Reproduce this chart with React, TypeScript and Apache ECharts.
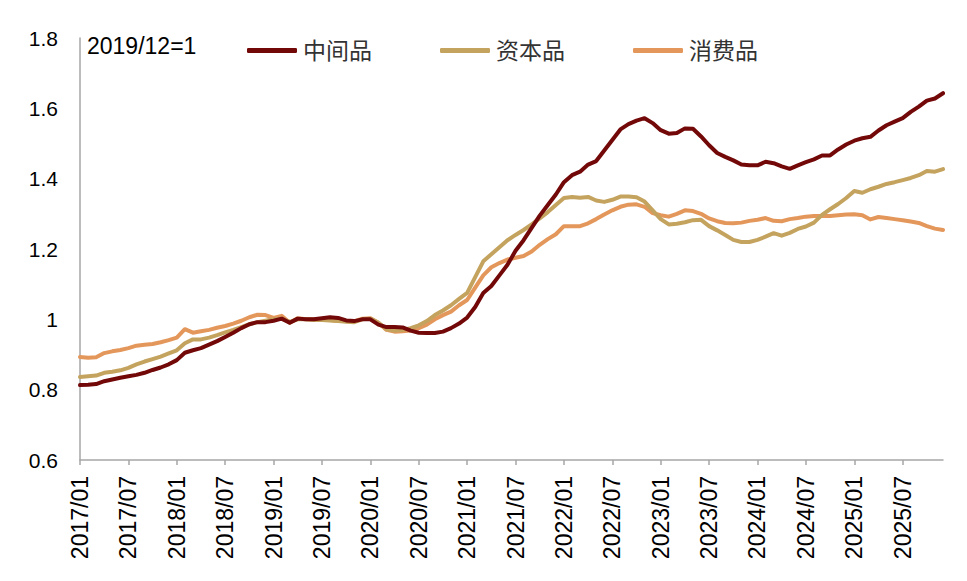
import React, { useEffect, useRef } from "react";
import * as echarts from "echarts";

const years = [2017, 2018, 2019, 2020, 2021, 2022, 2023, 2024, 2025];
const months = ["01", "02", "03", "04", "05", "06", "07", "08", "09", "10", "11", "12"];
const categories: string[] = [];
years.forEach((y) => months.forEach((m) => categories.push(`${y}/${m}`)));

const seriesNames = ["中间品", "资本品", "消费品"];
const yTicks = [0.6, 0.8, 1.0, 1.2, 1.4, 1.6, 1.8];
const note = "2019/12=1";

const intermediate = [
  0.813, 0.814, 0.816, 0.824, 0.829, 0.834, 0.838, 0.842, 0.848, 0.856, 0.863, 0.872,
  0.884, 0.905, 0.912, 0.918, 0.928, 0.938, 0.95, 0.962, 0.975, 0.986, 0.992, 0.992,
  0.996, 1.002, 0.99, 1.002, 1.0, 1.0, 1.003, 1.006, 1.004, 0.997, 0.995, 1.0,
  1.0, 0.985, 0.978, 0.978, 0.977, 0.968, 0.962, 0.961, 0.961, 0.965, 0.975, 0.988,
  1.005, 1.035, 1.075, 1.095, 1.125, 1.155, 1.195, 1.225, 1.26, 1.295, 1.325, 1.355,
  1.39, 1.41, 1.42, 1.44, 1.45, 1.48, 1.51, 1.54, 1.555, 1.565, 1.572, 1.558,
  1.538, 1.528, 1.53, 1.543, 1.542, 1.52, 1.495, 1.473, 1.462, 1.452, 1.44, 1.438,
  1.438, 1.448, 1.444, 1.435, 1.428, 1.438, 1.447, 1.455, 1.466, 1.466, 1.483, 1.497,
  1.508, 1.515, 1.519, 1.537, 1.552, 1.562, 1.572, 1.59, 1.605, 1.622, 1.628, 1.643,
];

const capital = [
  0.836, 0.838, 0.84, 0.848, 0.851, 0.855, 0.862, 0.872, 0.88, 0.887, 0.894, 0.903,
  0.912, 0.932, 0.943, 0.943, 0.948, 0.955, 0.963, 0.97, 0.978, 0.986, 0.992, 0.996,
  1.0, 1.002, 0.993, 1.0, 1.0, 0.998, 0.998, 0.997, 0.995, 0.993, 0.992, 1.0,
  1.002, 0.99, 0.972, 0.968, 0.97, 0.975, 0.983, 0.995, 1.012, 1.025, 1.04, 1.058,
  1.075, 1.12, 1.165, 1.185, 1.205, 1.225, 1.24, 1.254, 1.27, 1.287, 1.305, 1.325,
  1.345, 1.348, 1.346, 1.348, 1.338, 1.334, 1.34, 1.349, 1.349, 1.347, 1.335, 1.31,
  1.285, 1.27, 1.272, 1.276, 1.282, 1.283, 1.265, 1.253, 1.24, 1.226, 1.22, 1.22,
  1.226, 1.235, 1.245, 1.238, 1.246, 1.257, 1.264, 1.275, 1.297, 1.313, 1.328, 1.345,
  1.365, 1.36, 1.37, 1.377, 1.385, 1.39, 1.396, 1.402, 1.41, 1.422, 1.42, 1.427,
];

const consumer = [
  0.893, 0.891, 0.892, 0.904, 0.909, 0.913, 0.918, 0.925, 0.928, 0.93, 0.935, 0.941,
  0.948, 0.972, 0.962, 0.966, 0.97, 0.976, 0.981, 0.988, 0.996, 1.006, 1.013, 1.012,
  1.004, 1.01, 0.99, 1.003, 1.0, 1.0, 1.0, 0.998, 0.995, 0.995, 0.994, 1.002,
  1.003, 0.99, 0.97, 0.965, 0.966, 0.968, 0.975, 0.985, 1.0, 1.012, 1.022, 1.04,
  1.055, 1.09, 1.125, 1.148, 1.16, 1.17, 1.175, 1.18, 1.193, 1.212, 1.228, 1.242,
  1.265, 1.265, 1.265, 1.273, 1.285, 1.298, 1.31, 1.32, 1.326, 1.327, 1.32, 1.302,
  1.296, 1.292, 1.3, 1.31, 1.308, 1.3, 1.287, 1.279, 1.274, 1.273, 1.275, 1.28,
  1.283, 1.288, 1.28, 1.279, 1.285, 1.288, 1.292, 1.294, 1.294, 1.294, 1.296, 1.298,
  1.299, 1.296, 1.284, 1.291, 1.288, 1.285, 1.282, 1.278, 1.274, 1.265, 1.258, 1.254,
];

const colors = ["#730808", "#C4A35F", "#E4975B"];
const FONT = "'Liberation Sans', Arial, 'Noto Sans CJK SC', sans-serif";

export default function App() {
  const ref = useRef<HTMLDivElement>(null);
  useEffect(() => {
    if (!ref.current) return;
    const chart = echarts.init(ref.current, undefined, { renderer: "svg" });
    const data = [intermediate, capital, consumer];
    chart.setOption({
      animation: false,
      color: colors,
      textStyle: { fontFamily: FONT },
      grid: { left: 80, right: 24, top: 38, bottom: 121 },
      graphic: [
        {
          type: "text",
          left: 87,
          top: 34,
          style: { text: note, fontSize: 23, fill: "#000", fontFamily: FONT },
        },
      ],
      legend: {
        data: seriesNames,
        left: 247,
        top: 39,
        padding: 0,
        icon: "roundRect",
        itemWidth: 50,
        itemHeight: 5,
        itemGap: 68,
        textStyle: { fontSize: 23, color: "#333", fontFamily: FONT, padding: [0, 0, 0, 1] },
      },
      xAxis: {
        type: "category",
        data: categories,
        boundaryGap: false,
        axisLine: { lineStyle: { color: "#A6A6A6", width: 1.5 } },
        axisTick: { show: true, interval: 5, length: 5, lineStyle: { color: "#A6A6A6", width: 1.5 } },
        axisLabel: {
          interval: 5,
          rotate: 90,
          margin: 16,
          fontSize: 23,
          color: "#000",
          fontFamily: FONT,
        },
        splitLine: { show: false },
      },
      yAxis: {
        type: "value",
        min: yTicks[0],
        max: yTicks[yTicks.length - 1],
        interval: 0.2,
        axisLine: { show: true, lineStyle: { color: "#A6A6A6", width: 1.5 } },
        axisTick: { show: false },
        splitLine: { show: false },
        axisLabel: {
          fontSize: 21,
          color: "#000",
          margin: 22,
          fontFamily: FONT,
          formatter: (v: number) => String(Math.round(v * 10) / 10),
        },
      },
      series: seriesNames.map((name, i) => ({
        name,
        type: "line",
        data: data[i],
        symbol: "none",
        lineStyle: { width: 4, color: colors[i], cap: "round", join: "round" },
        z: 3 - i,
      })),
    });
    return () => chart.dispose();
  }, []);
  return (
    <div
      ref={ref}
      style={{ position: "fixed", left: 0, top: 0, width: 967, height: 581, background: "#fff" }}
    />
  );
}
